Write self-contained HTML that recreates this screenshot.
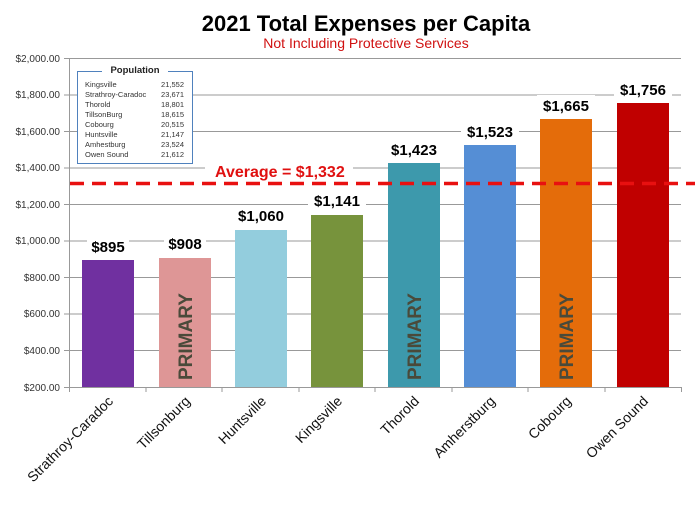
<!DOCTYPE html>
<html><head><style>body{margin:0;background:#fff}svg{display:block}</style></head><body>
<svg width="700" height="508" viewBox="0 0 700 508" xmlns="http://www.w3.org/2000/svg" font-family="'Liberation Sans', sans-serif">
<rect width="700" height="508" fill="#fff"/>
<text x="366" y="31" font-size="22" font-weight="bold" text-anchor="middle" fill="#000">2021 Total Expenses per Capita</text>
<text x="366" y="48" font-size="14" text-anchor="middle" fill="#d01010">Not Including Protective Services</text>
<g stroke="#999" stroke-width="1">
<line x1="64" y1="58.5" x2="681" y2="58.5"/><line x1="64" y1="95" x2="681" y2="95"/><line x1="64" y1="131.5" x2="681" y2="131.5"/><line x1="64" y1="168" x2="681" y2="168"/><line x1="64" y1="204.5" x2="681" y2="204.5"/><line x1="64" y1="241" x2="681" y2="241"/><line x1="64" y1="277.5" x2="681" y2="277.5"/><line x1="64" y1="314" x2="681" y2="314"/><line x1="64" y1="350.5" x2="681" y2="350.5"/>
<line x1="69.5" y1="58" x2="69.5" y2="392"/><line x1="64" y1="387.5" x2="682" y2="387.5"/>
<line x1="146" y1="387" x2="146" y2="392"/><line x1="222" y1="387" x2="222" y2="392"/><line x1="299" y1="387" x2="299" y2="392"/><line x1="375" y1="387" x2="375" y2="392"/><line x1="452" y1="387" x2="452" y2="392"/><line x1="528" y1="387" x2="528" y2="392"/><line x1="605" y1="387" x2="605" y2="392"/><line x1="681.5" y1="387" x2="681.5" y2="392"/>
</g>
<g font-size="10" fill="#333" text-anchor="end">
<text x="60" y="62">$2,000.00</text><text x="60" y="98">$1,800.00</text><text x="60" y="135">$1,600.00</text><text x="60" y="171">$1,400.00</text><text x="60" y="208">$1,200.00</text><text x="60" y="244">$1,000.00</text><text x="60" y="281">$800.00</text><text x="60" y="317">$600.00</text><text x="60" y="354">$400.00</text><text x="60" y="391">$200.00</text>
</g>
<rect x="82" y="260" width="52" height="127" fill="#7030a0"/>
<rect x="159" y="258" width="52" height="129" fill="#de9696"/>
<rect x="235" y="230" width="52" height="157" fill="#93cddd"/>
<rect x="311" y="215" width="52" height="172" fill="#77933c"/>
<rect x="388" y="163" width="52" height="224" fill="#3d99ac"/>
<rect x="464" y="145" width="52" height="242" fill="#558ed5"/>
<rect x="540" y="119" width="52" height="268" fill="#e46c0a"/>
<rect x="617" y="103" width="52" height="284" fill="#c00000"/>
<g font-size="15" font-weight="bold" fill="#000" text-anchor="middle">
<rect x="87" y="236" width="42" height="18" fill="#fff"/><text x="108" y="252">$895</text>
<rect x="164" y="233" width="42" height="18" fill="#fff"/><text x="185" y="249">$908</text>
<rect x="232" y="205" width="58" height="18" fill="#fff"/><text x="261" y="221">$1,060</text>
<rect x="308" y="190" width="58" height="18" fill="#fff"/><text x="337" y="206">$1,141</text>
<rect x="385" y="139" width="58" height="18" fill="#fff"/><text x="414" y="155">$1,423</text>
<rect x="461" y="121" width="58" height="18" fill="#fff"/><text x="490" y="137">$1,523</text>
<rect x="537" y="95" width="58" height="18" fill="#fff"/><text x="566" y="111">$1,665</text>
<rect x="614" y="79" width="58" height="18" fill="#fff"/><text x="643" y="95">$1,756</text>
</g>
<g font-size="19" font-weight="bold" fill="#4a4a3a">
<text transform="translate(192,380) rotate(-90)">PRIMARY</text>
<text transform="translate(421,380) rotate(-90)">PRIMARY</text>
<text transform="translate(573,380) rotate(-90)">PRIMARY</text>
</g>
<rect x="205" y="160" width="148" height="20" fill="#fff"/>
<text x="215" y="177" font-size="16" font-weight="bold" fill="#e01010">Average = $1,332</text>
<line x1="70" y1="183.5" x2="695" y2="183.5" stroke="#e81010" stroke-width="3.5" stroke-dasharray="14,8"/>
<rect x="77.5" y="71.5" width="115" height="92" fill="#fff" stroke="#4f81bd" stroke-width="1"/>
<rect x="102" y="64" width="66" height="14" fill="#fff"/>
<text x="135" y="73" font-size="9.5" font-weight="bold" text-anchor="middle" fill="#222">Population</text>
<g font-size="7.5" fill="#333">
<text x="85" y="87">Kingsville</text><text x="85" y="97">Strathroy-Caradoc</text><text x="85" y="107">Thorold</text><text x="85" y="117">TillsonBurg</text><text x="85" y="127">Cobourg</text><text x="85" y="137">Huntsville</text><text x="85" y="147">Amhestburg</text><text x="85" y="157">Owen Sound</text>
</g>
<g font-size="7.5" fill="#333" text-anchor="end">
<text x="184" y="87">21,552</text><text x="184" y="97">23,671</text><text x="184" y="107">18,801</text><text x="184" y="117">18,615</text><text x="184" y="127">20,515</text><text x="184" y="137">21,147</text><text x="184" y="147">23,524</text><text x="184" y="157">21,612</text>
</g>
<g font-size="14" fill="#111" text-anchor="end">
<text transform="translate(114,402) rotate(-45)">Strathroy-Caradoc</text>
<text transform="translate(191,402) rotate(-45)">Tillsonburg</text>
<text transform="translate(267,402) rotate(-45)">Huntsville</text>
<text transform="translate(343,402) rotate(-45)">Kingsville</text>
<text transform="translate(420,402) rotate(-45)">Thorold</text>
<text transform="translate(496,402) rotate(-45)">Amherstburg</text>
<text transform="translate(572,402) rotate(-45)">Cobourg</text>
<text transform="translate(649,402) rotate(-45)">Owen Sound</text>
</g>
</svg>
</body></html>
